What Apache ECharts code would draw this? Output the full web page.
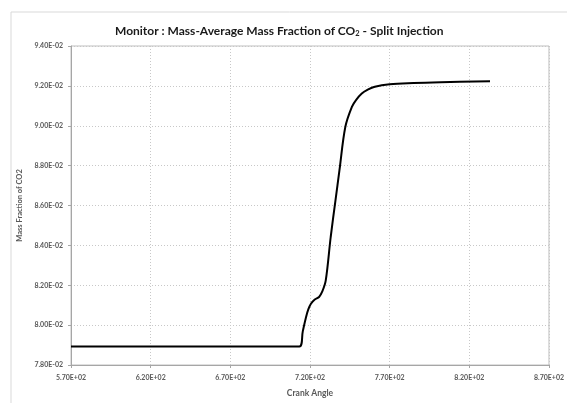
<!DOCTYPE html>
<html>
<head>
<meta charset="utf-8">
<script src="https://cdn.jsdelivr.net/npm/echarts@6/dist/echarts.min.js"></script>
<style>
    html, body { margin: 0; padding: 0; background: #fff; }
    #chart { width: 567px; height: 403px; }
</style>
</head>
<body>
<div id="chart"></div>
<script>
// crank angle (deg) and mass-average CO2 mass fraction
const crankAngle = [570, 713.4, 715.5, 717.5, 719, 720.6, 723, 725.7, 727.8, 729.9, 733, 736, 738.5, 742.2, 746.3, 749, 752.5, 756, 760.7, 770, 785, 802, 833]
const massFraction = [0.07893, 0.07893, 0.0797, 0.0804, 0.0808, 0.08107, 0.08128, 0.08141, 0.0817, 0.08224, 0.08442, 0.08626, 0.08777, 0.08995, 0.09095, 0.0913, 0.09162, 0.0918, 0.09196, 0.09208, 0.09214, 0.09218, 0.09223]

const xMin = 570
const xMax = 870
const xStep = 50
const yMin = 0.078
const yMax = 0.094
const yStep = 0.002

// Excel style scientific labels, e.g. 5.70E+02
function sci(v) {
    const parts = v.toExponential(2).split('e')
    const exp = parts[1]
    return parts[0] + 'E' + exp[0] + exp.slice(1).padStart(2, '0')
}

const font = 'Lato, "Open Sans", sans-serif'
const labelColor = '#595959'

const dom = echarts.init(document.getElementById('chart'))
// x axis is drawn offset from xMin so ticks start at 570
const points = crankAngle.map((a, i) => [a - xMin, massFraction[i]])

const option = {
    animation: false,
    title: {
        text: 'Monitor : Mass-Average Mass Fraction of CO{sub|2} - Split Injection',
        left: 110,
        top: 19,
        textStyle: {
            fontFamily: font,
            fontSize: 12,
            fontWeight: 'bold',
            color: '#1a1a1a',
            rich: {
                sub: {
                    fontFamily: font,
                    fontSize: 7.5,
                    fontWeight: 'bold',
                    color: '#1a1a1a',
                    verticalAlign: 'bottom',
                    padding: [6, 0, 0, 0]
                }
            }
        }
    },
    graphic: [{
        type: 'rect',
        shape: { x: 11, y: 12, width: 600, height: 450 },
        style: { fill: 'none', stroke: '#d9d9d9', lineWidth: 1 },
        silent: true
    }],
    grid: {
        left: 71,
        right: 10,
        top: 46,
        bottom: 38,
        show: true,
        borderColor: '#bfbfbf',
        borderWidth: 1
    },
    xAxis: {
        type: 'value',
        min: 0,
        max: xMax - xMin,
        interval: xStep,
        name: 'Crank Angle',
        nameLocation: 'middle',
        nameGap: 24,
        nameTextStyle: { fontFamily: font, fontSize: 8.5, fontWeight: 'bold', color: labelColor },
        axisLine: { lineStyle: { color: '#a6a6a6' } },
        axisTick: { show: true, length: 3, lineStyle: { color: '#a6a6a6' } },
        axisLabel: {
            formatter: v => sci(v + xMin),
            fontFamily: font,
            fontSize: 7,
            fontWeight: 'bold',
            color: labelColor,
            margin: 9
        },
        splitLine: { lineStyle: { type: [1, 2], color: '#c8c8c8' } }
    },
    yAxis: {
        type: 'value',
        min: yMin,
        max: yMax,
        interval: yStep,
        name: 'Mass Fraction of CO2',
        nameLocation: 'middle',
        nameGap: 43,
        nameRotate: 90,
        nameTextStyle: { fontFamily: font, fontSize: 7.5, fontWeight: 'bold', color: labelColor },
        axisLine: { show: true, lineStyle: { color: '#a6a6a6' } },
        axisTick: { show: true, length: 3, lineStyle: { color: '#a6a6a6' } },
        axisLabel: {
            formatter: v => sci(v),
            fontFamily: font,
            fontSize: 7,
            fontWeight: 'bold',
            color: labelColor,
            margin: 8
        },
        splitLine: { lineStyle: { type: [1, 2], color: '#c8c8c8' } }
    },
    series: [{
        type: 'line',
        data: points,
        showSymbol: false,
        smooth: 0.35,
        lineStyle: { color: '#000', width: 2 }
    }]
}
dom.setOption(option)
</script>
</body>
</html>
